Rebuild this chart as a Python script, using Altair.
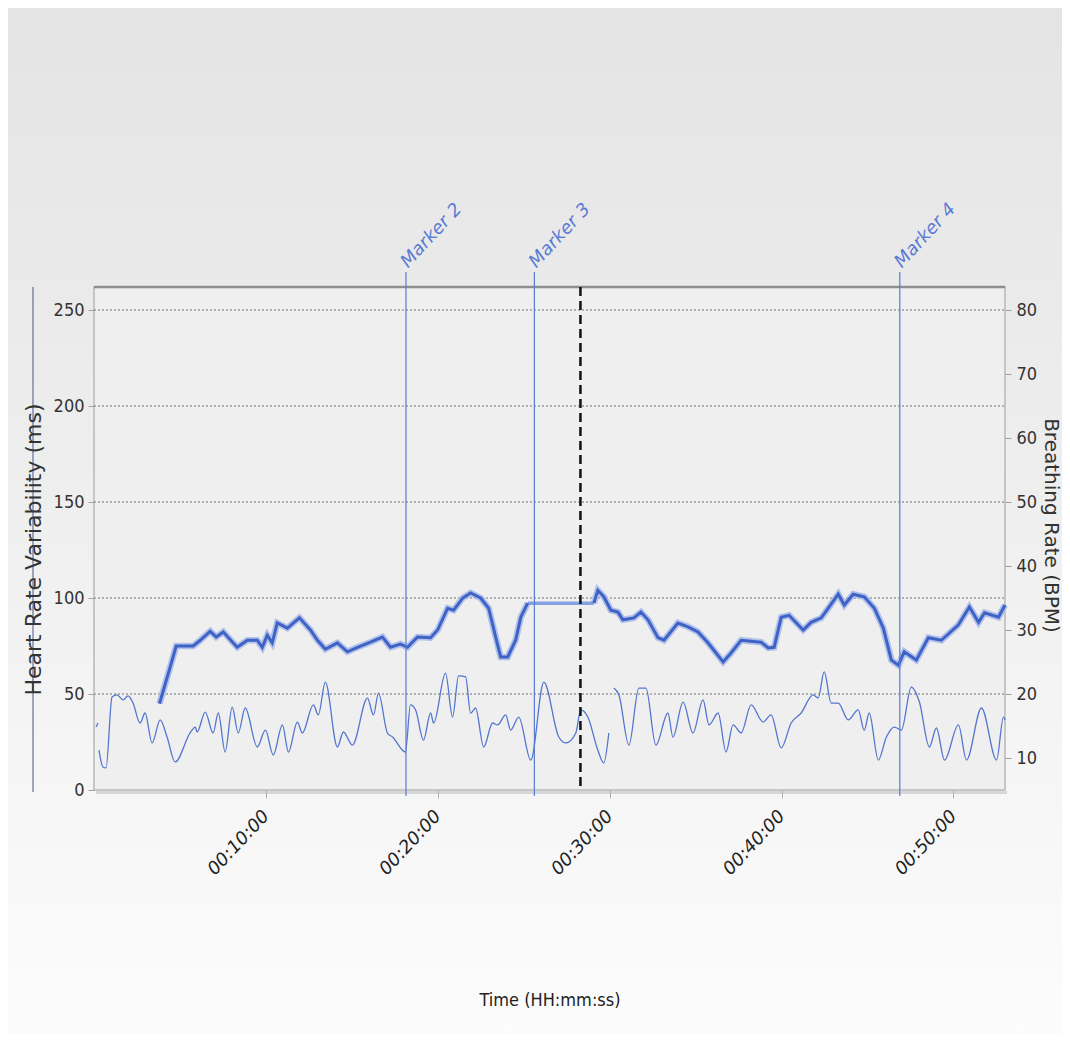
import altair as alt
import pandas as pd

# ---------------- data (minutes since start) ----------------
# Breathing rate (right axis, BPM) - thick line
br_a_time = [3.81, 4.43, 4.78, 5.77, 6.18, 6.76, 7.11, 7.52, 8.33, 8.92, 9.50, 9.79, 10.08, 10.37,
             10.66, 11.25, 11.95, 12.59, 13.00, 13.46, 14.16, 14.74, 15.33, 16.08, 16.78, 17.25,
             17.83, 18.24, 18.82, 19.58, 19.99, 20.57, 20.92, 21.45, 21.91, 22.49, 22.96, 23.37,
             23.66, 24.07, 24.53, 24.83, 25.23]
br_a_bpm = [18.5, 24.2, 27.5, 27.5, 28.4, 29.8, 28.9, 29.7, 27.3, 28.4, 28.4, 27.3, 29.2, 28.0,
            31.1, 30.3, 31.9, 30.0, 28.4, 27.0, 28.0, 26.6, 27.3, 28.1, 28.9, 27.3,
            27.8, 27.3, 28.9, 28.8, 30.0, 33.4, 33.1, 35.0, 35.8, 35.0, 33.4, 28.9,
            25.8, 25.8, 28.4, 32.0, 34.2]
br_flat_time = [25.23, 29.08]
br_flat_bpm = [34.2, 34.2]
br_b_time = [29.08, 29.31, 29.66, 30.07, 30.48, 30.77, 31.41, 31.82, 32.23, 32.81, 33.16, 33.97,
             34.56, 35.14, 35.72, 36.60, 37.06, 37.65, 38.81, 39.22, 39.57, 39.98, 40.44, 41.26,
             41.72, 42.31, 42.77, 43.30, 43.65, 44.17, 44.81, 45.40, 45.92, 46.39, 46.80, 47.14,
             47.84, 48.54, 49.30, 50.29, 50.93, 51.46, 51.81, 52.62, 53.0]
br_b_bpm = [34.2, 36.2, 35.2, 33.1, 32.8, 31.6, 31.9, 32.8, 31.6, 28.8, 28.4, 31.1,
            30.5, 29.7, 28.0, 25.0, 26.4, 28.4, 28.1, 27.2, 27.3, 32.0, 32.3, 30.0,
            31.2, 31.9, 33.6, 35.6, 33.9, 35.6, 35.2, 33.4, 30.3, 25.3, 24.5, 26.6,
            25.3, 28.8, 28.4, 30.8, 33.6, 31.2, 32.7, 32.0, 33.9]

# Heart rate variability (left axis, ms) - thin line
hrv_0_time = [0.12, 0.23]
hrv_0_ms = [32.8, 34.9]
hrv_1_time = [0.29, 0.52, 0.70, 1.05, 1.34, 1.69, 1.98, 2.27, 2.68, 2.97,
              3.38, 3.85, 4.25, 4.72, 5.59, 5.89, 6.00, 6.47, 6.93, 7.23,
              7.63, 8.04, 8.39, 8.80, 9.50, 9.97, 10.43, 10.96, 11.31, 11.83,
              12.12, 12.76, 13.05, 13.46, 14.16, 14.51, 15.03, 15.91, 16.26, 16.55,
              17.07, 17.37, 18.12, 18.41, 18.71, 19.17, 19.58, 19.76, 20.45, 20.86,
              21.21, 21.62, 21.91, 22.20, 22.67, 23.19, 23.48, 23.95, 24.24, 24.71,
              25.41, 26.17, 27.04, 27.45, 28.03, 28.32, 28.73, 29.31, 29.66, 29.95]
hrv_1_ms = [20.8, 12.0, 11.5, 48.4, 49.5, 46.9, 49.0, 45.3, 34.9, 40.1,
            24.5, 36.5, 27.6, 14.6, 29.7, 32.8, 30.2, 40.6, 29.7, 40.1,
            19.8, 43.2, 29.7, 42.7, 22.4, 31.2, 18.2, 33.9, 19.8, 35.4,
            29.7, 44.3, 39.1, 56.2, 22.4, 30.2, 23.4, 47.9, 39.1, 50.5,
            29.7, 27.6, 19.8, 44.3, 41.7, 26.0, 40.1, 34.9, 60.9, 38.0,
            59.4, 58.9, 40.1, 42.7, 22.4, 34.9, 33.9, 39.1, 31.2, 38.0,
            15.6, 56.2, 27.6, 24.5, 29.7, 41.7, 38.0, 20.8, 14.1, 29.7]
hrv_2_time = [30.24, 30.54, 31.12, 31.70, 32.11, 32.69, 33.39, 33.68, 34.27, 34.85,
              35.43, 35.78, 36.31, 36.77, 37.18, 37.65, 38.23, 38.93, 39.39, 39.98,
              40.56, 41.14, 41.84, 42.13, 42.48, 42.89, 43.30, 43.88, 44.46, 44.81,
              45.10, 45.63, 46.10, 46.56, 46.97, 47.55, 48.02, 48.60, 49.01, 49.48,
              50.29, 50.76, 51.63, 52.51, 52.91, 53.0]
hrv_2_ms = [53.1, 49.5, 23.4, 53.1, 53.1, 23.4, 40.1, 27.6, 45.8, 29.7,
            46.9, 33.9, 40.1, 19.8, 33.9, 29.7, 44.3, 35.4, 39.1, 21.9,
            34.9, 40.1, 49.5, 47.9, 61.5, 45.3, 45.3, 36.5, 41.7, 31.2,
            40.1, 15.6, 27.6, 32.8, 31.2, 53.6, 45.8, 22.4, 32.3, 15.6,
            33.9, 15.6, 42.7, 15.6, 38.0, 36.5]

marker_names = ["Marker 2", "Marker 3", "Marker 4"]
marker_time = [18.15, 25.62, 46.88]
cursor_time = [28.3]

x_ticks = [10, 20, 30, 40, 50]
left_ticks = [0, 50, 100, 150, 200, 250]
grid_vals = [50, 100, 150, 200, 250]
right_ticks = [10, 20, 30, 40, 50, 60, 70, 80]

# ---------------- frames ----------------
def frame(parts, col):
    rows = []
    for seg, ts, vs in parts:
        for t, v in zip(ts, vs):
            rows.append({"t": t, col: v, "seg": seg})
    return pd.DataFrame(rows)

br_main = frame([("a", br_a_time, br_a_bpm), ("b", br_b_time, br_b_bpm)], "bpm")
br_flat = frame([("f", br_flat_time, br_flat_bpm)], "bpm")
hrv_df = frame([("0", hrv_0_time, hrv_0_ms), ("1", hrv_1_time, hrv_1_ms),
                ("2", hrv_2_time, hrv_2_ms)], "hrv")
grid_df = pd.DataFrame({"hrv": grid_vals})
mark_df = pd.DataFrame({"t": marker_time, "name": marker_names})
cur_df = pd.DataFrame({"t": cursor_time})
one = pd.DataFrame({"k": [0]})

W, H = 911, 503
PL, PT, PR, PB = 86, 279, 57, 244
COND = "DejaVu Sans Condensed, DejaVu Sans"
BLUE = "#5a7bd4"

xscale = alt.Scale(domain=[0, 53], nice=False, zero=False)
xaxis = alt.Axis(values=x_ticks, labelExpr="'00:' + datum.value + ':00'", labelAngle=-47,
                 labelAlign="right", labelBaseline="middle", labelFont="DejaVu Sans",
                 labelFontSize=18, labelFontStyle="italic", labelColor="#222222",
                 labelPadding=15, tickSize=8, tickColor="#b0b0b0", domain=False, grid=False,
                 title="Time (HH:mm:ss)", titleFont=COND, titleFontSize=18,
                 titleFontWeight="normal", titleColor="#222222", titleY=210,
                 titleBaseline="middle", zindex=1)

lscale = alt.Scale(domain=[0, 262], nice=False, zero=False)
laxis = alt.Axis(values=left_ticks, orient="left", labelFont=COND, labelFontSize=18,
                 labelColor="#333333", labelPadding=4, tickSize=6, tickColor="#a0a0a0",
                 domain=False, grid=False, title="Heart Rate Variability (ms)",
                 titleFont="DejaVu Sans", titleFontSize=22, titleFontWeight="normal",
                 titleColor="#333333", titleX=-61, titleY=262, titleAngle=-90,
                 titleAlign="center", titleBaseline="middle", zindex=1)

rscale = alt.Scale(domain=[5, 83.6], nice=False, zero=False)
raxis = alt.Axis(values=right_ticks, orient="right", labelFont=COND, labelFontSize=18,
                 labelColor="#333333", labelPadding=5, tickSize=6, tickColor="#a0a0a0",
                 domain=False, grid=False, title="Breathing Rate (BPM)",
                 titleFont="DejaVu Sans", titleFontSize=20, titleFontWeight="normal",
                 titleColor="#333333", titleX=45, titleY=238, titleAngle=90,
                 titleAlign="center", titleBaseline="middle", zindex=1)

# ---------------- decorations ----------------
page_bg = alt.Chart(one).mark_rect(
    fill=alt.Gradient(gradient="linear", x1=0, x2=0, y1=0, y2=1,
                      stops=[alt.GradientStop(color="#e4e4e4", offset=0),
                             alt.GradientStop(color="#eeeeee", offset=0.45),
                             alt.GradientStop(color="#fcfcfc", offset=1)])
).encode(x=alt.value(-PL), x2=alt.value(W + PR), y=alt.value(-PT), y2=alt.value(H + PB))

plot_bg = alt.Chart(one).mark_rect(fill="#efefef", stroke="#b8b8b8", strokeWidth=1.5).encode(
    x=alt.value(0), x2=alt.value(W), y=alt.value(0), y2=alt.value(H))

bottom_shadow = alt.Chart(one).mark_rule(color="#d6d6d6", strokeWidth=3).encode(
    x=alt.value(2), x2=alt.value(W + 2), y=alt.value(H + 2.5))

top_border = alt.Chart(one).mark_rule(color="#8f8f8f", strokeWidth=2.5).encode(
    x=alt.value(0), x2=alt.value(W), y=alt.value(0))

title_line = alt.Chart(one).mark_rule(color="#44558c", strokeWidth=1).encode(
    x=alt.value(-61), y=alt.value(0), y2=alt.value(H + 2))

# ---------------- left (HRV) group ----------------
grid = alt.Chart(grid_df).mark_rule(color="#9c9c9c", strokeWidth=1.5, strokeDash=[2, 2]).encode(
    y=alt.Y("hrv:Q", scale=lscale, axis=laxis), x=alt.value(0), x2=alt.value(W))

hrv_line = alt.Chart(hrv_df).mark_line(color="#5275cf", strokeWidth=1.3,
                                       interpolate="monotone").encode(
    x=alt.X("t:Q", scale=xscale, axis=xaxis),
    y=alt.Y("hrv:Q", scale=lscale, axis=laxis),
    detail="seg:N")

left_group = alt.layer(grid, hrv_line)

# ---------------- right (breathing) group ----------------
halo = alt.Chart(br_main).mark_line(color="#a3b5e8", strokeWidth=6.5, opacity=0.8).encode(
    x=alt.X("t:Q", scale=xscale, axis=xaxis),
    y=alt.Y("bpm:Q", scale=rscale, axis=raxis), detail="seg:N")
thick = alt.Chart(br_main).mark_line(color="#3e62c6", strokeWidth=3).encode(
    x=alt.X("t:Q", scale=xscale, axis=xaxis),
    y=alt.Y("bpm:Q", scale=rscale, axis=raxis), detail="seg:N")
flat = alt.Chart(br_flat).mark_line(color="#86a0e4", strokeWidth=3.5).encode(
    x=alt.X("t:Q", scale=xscale, axis=xaxis),
    y=alt.Y("bpm:Q", scale=rscale, axis=raxis), detail="seg:N")

right_group = alt.layer(halo, flat, thick)

# ---------------- markers ----------------
m_rules = alt.Chart(mark_df).mark_rule(strokeWidth=1.2).encode(
    x=alt.X("t:Q", scale=xscale, axis=xaxis), y=alt.value(-15), y2=alt.value(H + 6),
    color=alt.value(BLUE))
m_text = alt.Chart(mark_df).mark_text(angle=313, align="left", baseline="alphabetic",
                                      font="DejaVu Sans", fontSize=18, fontStyle="italic",
                                      dx=4, dy=-1).encode(
    x=alt.X("t:Q", scale=xscale, axis=xaxis), y=alt.value(-15), text="name:N",
    color=alt.value(BLUE))
cursor = alt.Chart(cur_df).mark_rule(color="#111111", strokeWidth=2.5, strokeDash=[9, 5]).encode(
    x=alt.X("t:Q", scale=xscale, axis=xaxis), y=alt.value(0), y2=alt.value(H))

chart = alt.layer(
    page_bg, bottom_shadow, plot_bg, top_border, title_line,
    alt.layer(left_group, right_group).resolve_scale(y="independent"),
    m_rules, cursor, m_text
).properties(
    width=W, height=H,
    padding={"left": PL, "top": PT, "right": PR, "bottom": PB},
    autosize=alt.AutoSizeParams(type="none"),
).configure_view(strokeWidth=0).configure(background="#f2f2f2")

chart.save("out.html", embed_options={"renderer": "svg", "actions": False})
